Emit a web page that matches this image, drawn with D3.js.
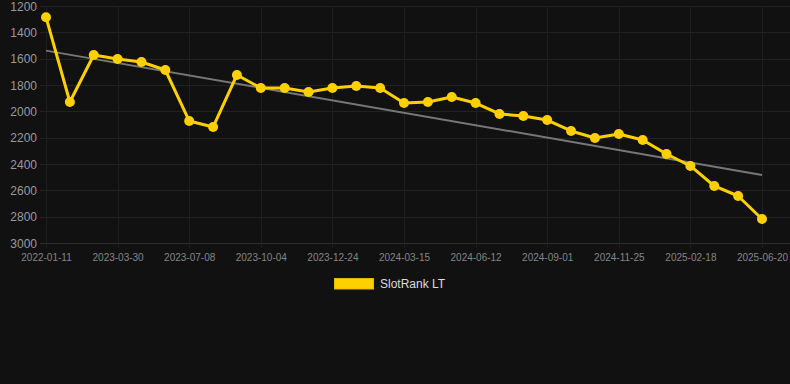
<!DOCTYPE html>
<html><head><meta charset="utf-8">
<script src="https://cdn.jsdelivr.net/npm/d3@7"></script>
<style>html,body{margin:0;padding:0;background:#111111;}svg{display:block;}</style>
</head><body>
<svg id="chart" width="790" height="384"></svg>
<script>
const tickLabels = ["2022-01-11","2023-03-30","2023-07-08","2023-10-04","2023-12-24","2024-03-15","2024-06-12","2024-09-01","2024-11-25","2025-02-18","2025-06-20"];
const tickIndex = [0,3,6,9,12,15,18,21,24,27,30];
const rankValues = [1285,1929,1572,1602,1625,1686,2073,2119,1724,1823,1823,1853,1823,1808,1823,1937,1929,1891,1937,2020,2035,2066,2149,2203,2172,2218,2324,2415,2567,2643,2818];
const trendEnds = [1539,2483];
const yTicks = [1200,1400,1600,1800,2000,2200,2400,2600,2800,3000];
const seriesName = "SlotRank LT";

(function(){
const svg = d3.select("#chart");
const pL=46, pR=762, pT=6, pB=243;
const x = d3.scaleLinear().domain([0, rankValues.length-1]).range([pL, pR]);
const y = d3.scaleLinear().domain([1200,3000]).range([pT, pB]);

const g = svg.append("g");
g.selectAll("line.h").data(yTicks).enter().append("line")
  .attr("x1",40).attr("x2",790).attr("y1",d=>Math.round(y(d))+0.5).attr("y2",d=>Math.round(y(d))+0.5)
  .attr("stroke", d=> d===3000 ? "#2e2e2e" : "#222222").attr("stroke-width",1);
g.selectAll("line.v").data(tickIndex).enter().append("line")
  .attr("x1",d=>Math.round(x(d))+0.5).attr("x2",d=>Math.round(x(d))+0.5).attr("y1",pT).attr("y2",pB+5)
  .attr("stroke","#1f1f1f").attr("stroke-width",1);

const yAxis = d3.axisLeft(y).tickValues(yTicks).tickFormat(d3.format("d")).tickSize(0).tickPadding(0);
const ya = svg.append("g").attr("transform","translate(37,0)").call(yAxis);
ya.select(".domain").remove();
ya.selectAll("text").attr("fill","#9a9a9a").attr("font-family","Liberation Sans, Arial, sans-serif").attr("font-size","12px").attr("dy","0.35em").attr("text-anchor","end");

const xAxis = d3.axisBottom(x).tickValues(tickIndex).tickFormat((d,i)=>tickLabels[i]).tickSize(0).tickPadding(0);
const xa = svg.append("g").attr("transform",`translate(0,${pB+11})`).call(xAxis);
xa.select(".domain").remove();
xa.selectAll("text").attr("fill","#858585").attr("font-family","Liberation Sans, Arial, sans-serif").attr("font-size","10px").attr("dy","0.71em");

svg.append("line")
  .attr("x1",x(0)).attr("x2",x(rankValues.length-1))
  .attr("y1",y(trendEnds[0])).attr("y2",y(trendEnds[1]))
  .attr("stroke","#777777").attr("stroke-width",2);

const line = d3.line().x((d,i)=>x(i)).y(d=>y(d));
svg.append("path").datum(rankValues).attr("d",line)
  .attr("fill","none").attr("stroke","#FFD000").attr("stroke-width",3).attr("stroke-linejoin","round");
svg.selectAll("circle.pt").data(rankValues).enter().append("circle")
  .attr("cx",(d,i)=>x(i)).attr("cy",d=>y(d)).attr("r",5).attr("fill","#FFD000");

svg.append("rect").attr("x",334.5).attr("y",278.5).attr("width",39).attr("height",10.5)
  .attr("fill","#FFD000").attr("stroke","#e0b800").attr("stroke-width",1);
svg.append("text").attr("x",380).attr("y",284).attr("dy","0.35em")
  .attr("fill","#dddddd").attr("font-family","Liberation Sans, Arial, sans-serif").attr("font-size","12px")
  .text(seriesName);
})();
</script>
</body></html>
